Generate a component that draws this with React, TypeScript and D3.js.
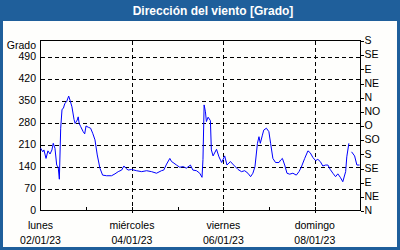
import React from "react";
import * as d3 from "d3";

const TITLE = "Dirección del viento [Grado]";
const Y_LABEL = "Grado";

// hours since 02/01/23 00:00
const HOURS = [
  0, 1.2, 1.8, 2.9, 3.9, 5.0, 6.0, 6.7, 7.6, 8.5, 9.3, 9.9, 10.6, 11.3, 12.0, 12.8, 13.7, 14.8, 15.5,
  16.5, 17.6, 18.2, 19.3, 19.8, 20.3, 21.1, 22.4, 23.2, 23.9, 25.1, 26.3, 27.4, 28.6, 29.8, 31.2, 32.6,
  34.7, 37.3, 39.1, 40.8, 42.6, 43.8, 44.8, 46.0, 47.8, 50.4, 53.1, 55.7, 58.3, 60.9, 63.5, 64.7, 66.2,
  67.9, 68.8, 69.6, 71.4, 73.1, 74.9, 76.6, 78.7, 80.0, 81.9, 83.6, 84.8, 85.3, 85.9, 86.6, 87.1, 88.0,
  89.2, 89.7, 90.6, 92.4, 93.7, 95.1, 96.7, 97.9, 99.7, 101.4, 103.7, 105.5, 107.2, 108.9, 110.3, 111.5,
  112.6, 113.9, 114.7, 115.4, 116.5, 117.2, 118.6, 119.9, 120.8, 122.0, 123.4, 125.2, 126.1, 127.0,
  128.2, 129.4, 130.8, 132.5, 134.3, 135.7, 136.9, 138.7, 140.4, 141.6, 143.0, 144.4, 145.6, 146.9,
  148.2, 149.7, 150.9, 152.1, 153.5, 154.9, 156.1, 157.4, 158.7, 160.2, 160.8, 161.9, 162.6, 163.3,
  164.9, 166.1, 167.5,
];
const VALUES: (number | null)[] = [
  200, 188, 194, 167, 191, 181, 194, 215, 199, 146, 139, 101, 263, 323, 326, 342, 347, 365, 352,
  331, 291, 278, 289, 299, 278, 268, 252, 245, 270, 266, 263, 247, 226, 178, 136, 114,
  112, 112, 118, 125, 130, 143, 136, 130, 132, 128, 125, 128, 125, 120, 128, 130, 149,
  167, 157, 154, 146, 139, 141, 136, 146, 130, 128, 120, 107, 164, 337, 315, 284, 298,
  287, 194, 175, 196, 172, 154, 175, 146, 157, 146, 132, 125, 128, 120, 109, 120,
  141, 215, 236, 215, 241, 257, 263, 252, 215, 167, 154, 154, 162, 167,
  146, 120, 117, 120, 114, 125, 139, 167, 191, 185, 170, 160, 164, 157,
  143, 146, 146, 132, 120, 109, 118, 107, 93, 125, 172, 215, null, 188,
  175, 146, 146,
];

const LEFT_TICKS = [0, 70, 140, 210, 280, 350, 420, 490];
const RIGHT_TICKS = [0, 45, 90, 135, 180, 225, 270, 315, 360, 405, 450, 495, 540];
const RIGHT_LABELS = ["N", "NE", "E", "SE", "S", "SO", "O", "NO", "N", "NE", "E", "SE", "S"];
const DAY_TICKS = ["2023-01-03", "2023-01-04", "2023-01-05", "2023-01-06", "2023-01-07", "2023-01-08"];
const MAJOR_TICKS = ["2023-01-02", "2023-01-04", "2023-01-06", "2023-01-08"];
const DAY_NAMES = ["lunes", "miércoles", "viernes", "domingo"];
const DATE_LABELS = ["02/01/23", "04/01/23", "06/01/23", "08/01/23"];

const W = 400;
const H = 250;
const FONT = "'Liberation Sans', Arial, sans-serif";

function parse(s: string) {
  const [y, m, d] = s.split("-").map(Number);
  return new Date(y, m - 1, d);
}

export default function App() {
  const start = parse("2023-01-02");
  const end = parse("2023-01-09");
  const x = d3.scaleTime().domain([start, end]).range([40.5, 360.5]);
  const y = d3.scaleLinear().domain([0, 540]).range([211, 41]);

  const pts = HOURS.map((h, i) => ({ t: new Date(start.getTime() + h * 3600000), v: VALUES[i] }));
  const line = d3
    .line<{ t: Date; v: number | null }>()
    .defined((d) => d.v !== null)
    .x((d) => x(d.t))
    .y((d) => y(d.v as number));

  const L = 40.5, R = 360.5, T = 40.5, B = 210.5;
  const py = (v: number) => Math.round(y(v)) + 0.5;
  const px = (d: Date) => Math.round(x(d)) + 0.5;

  return (
    <svg width={W} height={H} style={{ position: "absolute", left: 0, top: 0 }} fontFamily={FONT}>
      <rect x={0} y={0} width={W} height={H} fill="#1f5f9b" />
      <rect x={3} y={21} width={W - 6} height={H - 24} fill="#fefefc" />
      <text x={213} y={15} textAnchor="middle" fill="#ffffff" fontWeight="bold" fontSize={12}>
        {TITLE}
      </text>

      {/* horizontal grid */}
      {LEFT_TICKS.filter((v) => v > 0).map((v) => (
        <line key={"h" + v} x1={L} x2={R} y1={py(v)} y2={py(v)} stroke="#000" strokeDasharray="4,3" shapeRendering="crispEdges" />
      ))}
      {/* vertical grid */}
      {MAJOR_TICKS.slice(1).map((s) => (
        <line key={"v" + s} x1={px(parse(s))} x2={px(parse(s))} y1={T} y2={B + 3} stroke="#000" strokeDasharray="4,3" shapeRendering="crispEdges" />
      ))}
      {/* minor ticks */}
      {DAY_TICKS.map((s) => (
        <line key={"m" + s} x1={px(parse(s))} x2={px(parse(s))} y1={B - 4} y2={B} stroke="#000" shapeRendering="crispEdges" />
      ))}
      {/* frame */}
      <rect x={L} y={T} width={R - L} height={B - T} fill="none" stroke="#000" shapeRendering="crispEdges" />

      {/* data */}
      <path d={line(pts) || ""} fill="none" stroke="#0000ff" strokeWidth={1} />

      {/* left axis labels */}
      <text x={36} y={46} textAnchor="end" dominantBaseline="middle" fontSize={10.5} fill="#000">
        {Y_LABEL}
      </text>
      {LEFT_TICKS.map((v) => (
        <text key={"lt" + v} x={36} y={y(v) + 0.5} textAnchor="end" dominantBaseline="middle" fontSize={10.5} fill="#000">
          {v}
        </text>
      ))}

      {/* right axis */}
      {RIGHT_TICKS.map((v, i) => (
        <g key={"rt" + i}>
          <line x1={R} x2={R + 3} y1={py(v)} y2={py(v)} stroke="#000" shapeRendering="crispEdges" />
          <text x={364.5} y={y(v) + 0.5} dominantBaseline="middle" fontSize={10.5} fill="#000">
            {RIGHT_LABELS[i]}
          </text>
        </g>
      ))}

      {/* bottom labels */}
      {MAJOR_TICKS.map((s, i) => (
        <g key={"bl" + s}>
          <text x={x(parse(s))} y={229} textAnchor="middle" fontSize={10.5} fill="#000">
            {DAY_NAMES[i]}
          </text>
          <text x={x(parse(s))} y={244} textAnchor="middle" fontSize={10.5} fill="#000">
            {DATE_LABELS[i]}
          </text>
        </g>
      ))}
    </svg>
  );
}
